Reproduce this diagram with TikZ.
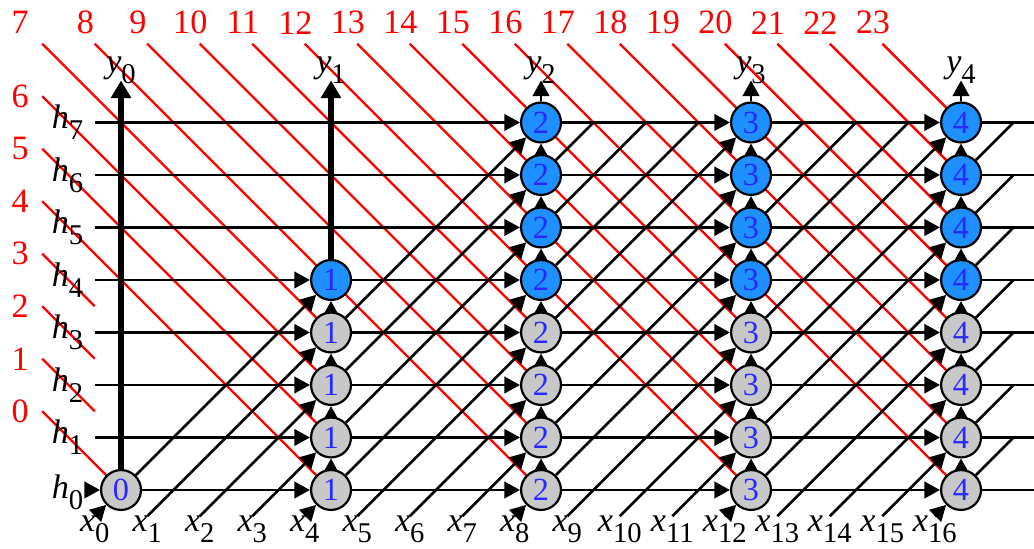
\documentclass[tikz,border=0pt]{standalone}
\usepackage{fontspec}
\setmainfont{Liberation Serif}
\usepackage{tikz}
\usetikzlibrary{arrows.meta, backgrounds}
\definecolor{cellGray}{RGB}{200, 200, 200}
\definecolor{cellBlue}{RGB}{30, 144, 255}
\definecolor{digitBlue}{RGB}{40, 40, 255}
\definecolor{waveRed}{RGB}{255, 0, 0}
\newcommand{\lab}[2]{\textit{#1}\raisebox{-0.32em}{\fontsize{15.5}{15.5}\selectfont #2}}

\begin{document}
\begin{tikzpicture}[x=1cm, y=1cm,
    >={Triangle[length=8.5pt,width=9pt]},
    wire/.style={line width=1.4pt},
    bus/.style={line width=2.8pt, -{Triangle[length=9.5pt,width=10.5pt]}},
    wave/.style={waveRed, line width=1.3pt},
    cell/.style={circle, draw, line width=1.2pt, minimum size=0.76cm, inner sep=0pt,
      text=digitBlue, font=\fontsize{17.5}{18}\selectfont},
    idle/.style={cell, fill=cellGray},
    busy/.style={cell, fill=cellBlue},
    lbl/.style={font=\fontsize{18.5}{20}\selectfont, inner sep=0pt},
    num/.style={text=waveRed, font=\fontsize{18.5}{20}\selectfont, inner sep=0pt}]
  \useasboundingbox (-2.305,-1.105) rectangle (17.39,9.333);

  % cells
  \node[idle] (n0-0) at (0,0) {0};
  \foreach \row in {0,...,3} \node[idle] (n1-\row) at (4,\row) {1};
  \node[busy] (n1-4) at (4,4) {1};
  \foreach \col in {2,3,4} {
    \foreach \row in {0,...,3} \node[idle] (n\col-\row) at (4*\col,\row) {\col};
    \foreach \row in {4,...,7} \node[busy] (n\col-\row) at (4*\col,\row) {\col};
  }

  % free ends
  \coordinate (h0) at (-0.66,0);
  \foreach \row in {1,...,7} \coordinate (h\row) at (-0.5,\row);
  \foreach \row in {0,...,7} \coordinate (e\row) at (17.4,\row);
  \foreach \i in {0,...,16} \coordinate (s\i) at (\i-0.5,-0.5);
  \foreach \col in {0,...,4} \coordinate (tip\col) at (4*\col,7.8);
  \foreach \col in {2,3} \foreach \row in {4,5,6} \coordinate (d\col-\row) at (4*\col+7-\row,7);
  \foreach \row in {0,...,6} \coordinate (d4-\row) at (17,\row+1);
  \foreach \j in {0,...,7} \coordinate (w\j) at (-1.5,\j+1.5);
  \foreach \j in {8,...,23} \coordinate (w\j) at (\j-8.5,8.5);
  \foreach \j in {1,2,3} \coordinate (v\j) at (-0.5,\j+0.5);

  \begin{scope}[on background layer]
    % wavefronts
    \draw[wave] (w0) -- (n0-0.center);
    \foreach \j in {1,2,3} \draw[wave] (w\j) -- (v\j);
    \foreach \j in {4,...,23} {
      \pgfmathtruncatemacro{\col}{min(int(\j/4),4)}
      \pgfmathtruncatemacro{\row}{\j-4*\col}
      \draw[wave] (w\j) -- (n\col-\row.center);
    }
    % h inputs
    \draw[wire,->] (h0) -- (n0-0);
    \draw[wire,->] (n0-0) -- (n1-0);
    \foreach \row in {1,...,4} \draw[wire,->] (h\row) -- (n1-\row);
    \foreach \row in {5,6,7} \draw[wire,->] (h\row) -- (n2-\row);
    \foreach \row in {0,...,4} \draw[wire,->] (n1-\row) -- (n2-\row);
    \foreach \row in {0,...,7} {
      \draw[wire,->] (n2-\row) -- (n3-\row);
      \draw[wire,->] (n3-\row) -- (n4-\row);
      \draw[wire] (n4-\row) -- (e\row);
    }
    % x inputs
    \foreach \col in {0,...,4} {
      \pgfmathtruncatemacro{\i}{4*\col}
      \draw[wire,->] (s\i) -- (n\col-0);
    }
    \foreach \col in {1,...,4} \foreach \d in {1,2,3} {
      \pgfmathtruncatemacro{\i}{4*\col-\d}
      \draw[wire,->] (s\i) -- (n\col-\d);
    }
    % diagonals between columns
    \draw[wire,->] (n0-0) -- (n1-4);
    \foreach \col in {1,2,3} {
      \pgfmathtruncatemacro{\nxt}{\col+1}
      \foreach \row in {0,...,3} {
        \pgfmathtruncatemacro{\up}{\row+4}
        \draw[wire,->] (n\col-\row) -- (n\nxt-\up);
      }
    }
    \foreach \col in {2,3} \foreach \row in {4,5,6} \draw[wire] (n\col-\row) -- (d\col-\row);
    \foreach \row in {0,...,6} \draw[wire] (n4-\row) -- (d4-\row);
    % outputs
    \draw[bus] (n0-0) -- (tip0);
    \foreach \row in {0,...,3} {
      \pgfmathtruncatemacro{\up}{\row+1}
      \draw[wire,->] (n1-\row) -- (n1-\up);
    }
    \draw[bus] (n1-4) -- (tip1);
    \foreach \col in {2,3,4} {
      \foreach \row in {0,...,6} {
        \pgfmathtruncatemacro{\up}{\row+1}
        \draw[wire,->] (n\col-\row) -- (n\col-\up);
      }
      \draw[wire,->] (n\col-7) -- (tip\col);
    }
  \end{scope}

  % labels
  \node[lbl] (hl0) at (-1.02,-0.05) {\lab{h}{0}};
  \foreach \row in {1,...,7} \node[lbl] (hl\row) at (-1.02,\row) {\lab{h}{\row}};
  \foreach \i in {0,...,16} \node[lbl] (xl\i) at (\i-0.5,-0.75) {\lab{x}{\i}};
  \foreach \col in {0,...,4} \node[lbl] (yl\col) at (4*\col,8.0) {\lab{y}{\col}};
  \foreach \j in {0,...,6} \node[num] (r\j) at (-1.92,\j+1.5) {\j};
  \node[num] (r7) at (-1.92,8.9) {7};
  \foreach \j in {8,...,23} \node[num] (r\j) at (\j-8.68,8.9) {\j};
\end{tikzpicture}
\end{document}
